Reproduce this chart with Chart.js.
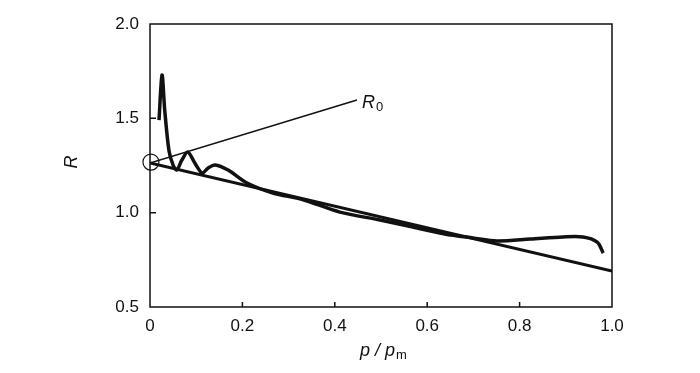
<!DOCTYPE html>
<html>
<head>
<meta charset="utf-8">
<script src="https://cdn.jsdelivr.net/npm/chart.js@4.4.1/dist/chart.umd.min.js"></script>
<style>
  html,body{margin:0;padding:0;background:#fff;}
  #wrap{width:700px;height:373px;position:relative;}
</style>
</head>
<body>
<div id="wrap"><canvas id="ch"></canvas></div>
<script>
const curveP = [0.0195,0.026,0.032,0.041,0.050,0.058,0.069,0.082,0.097,0.113,0.126,0.141,0.169,0.21,0.266,0.33,0.411,0.498,0.569,0.638,0.699,0.751,0.823,0.894,0.937,0.968,0.981];
const curveR = [1.49,1.73,1.54,1.33,1.252,1.226,1.279,1.321,1.263,1.21,1.237,1.253,1.226,1.157,1.104,1.07,1.003,0.961,0.924,0.887,0.866,0.85,0.86,0.871,0.871,0.844,0.786];
// linear fit
const fitP = [0, 1.0];
const fitR = [1.263, 0.69];
// R0 pointer
const ptrP = [0, 0.448];
const ptrR = [1.263, 1.597];
const r0 = {p:0.002, R:1.268};
const xTicks = [0,0.2,0.4,0.6,0.8,1.0];
const yTicks = [0.5,1.0,1.5,2.0];

const FONT = "'Liberation Sans', Arial, sans-serif";
const ink = '#111';
const xy = (ps, rs) => ps.map((p,i)=>({x:p,y:rs[i]}));

const frame = {
  id:'frame',
  afterDraw(chart){
    const {ctx, chartArea:a, scales:{x,y}} = chart;
    ctx.save();
    ctx.strokeStyle = ink; ctx.lineWidth = 1.5;
    ctx.strokeRect(a.left, a.top, a.right-a.left, a.bottom-a.top);
    // inward ticks
    ctx.beginPath();
    xTicks.slice(1,-1).forEach(v=>{ const px=x.getPixelForValue(v); ctx.moveTo(px,a.bottom); ctx.lineTo(px,a.bottom-5); });
    yTicks.slice(1,-1).forEach(v=>{ const py=y.getPixelForValue(v); ctx.moveTo(a.left,py); ctx.lineTo(a.left+6,py); });
    ctx.stroke();
    ctx.fillStyle = ink; ctx.textBaseline='alphabetic';
    // R0 label
    const lx = x.getPixelForValue(ptrP[1]) + 5, ly = y.getPixelForValue(ptrR[1]) + 8;
    ctx.font = 'italic 18px '+FONT; ctx.textAlign='left';
    ctx.fillText('R', lx, ly);
    const rw = ctx.measureText('R').width;
    ctx.font = '13px '+FONT; ctx.fillText('0', lx+rw+1, ly+3);
    // x title
    const cx = (a.left+a.right)/2 + 2, by = 356;
    ctx.font = 'italic 18px '+FONT;
    const t1 = 'p / p';
    const w1 = ctx.measureText(t1).width;
    ctx.font = '13px '+FONT; const w2 = ctx.measureText('m').width;
    const sx = cx - (w1+w2)/2;
    ctx.font = 'italic 18px '+FONT; ctx.fillText(t1, sx, by);
    ctx.font = '13px '+FONT; ctx.fillText('m', sx+w1+1, by+3);
    // y title
    ctx.translate(72, 162); ctx.rotate(-Math.PI/2);
    ctx.font = 'italic 18px '+FONT; ctx.textAlign='center'; ctx.textBaseline='middle';
    ctx.fillText('R', 0, 0);
    ctx.restore();
  }
};

new Chart(document.getElementById('ch'), {
  type:'scatter',
  data:{datasets:[
    {data:xy(curveP,curveR), showLine:true, borderColor:ink, borderWidth:3.5, pointRadius:0, tension:0.3, borderJoinStyle:'round'},
    {data:xy(fitP,fitR), showLine:true, borderColor:ink, borderWidth:3, pointRadius:0},
    {data:xy(ptrP,ptrR), showLine:true, borderColor:ink, borderWidth:1.5, pointRadius:0},
    {data:[{x:r0.p,y:r0.R}], clip:false, pointRadius:8, pointStyle:'circle', pointBorderColor:ink, pointBackgroundColor:'rgba(0,0,0,0)', pointBorderWidth:1.2}
  ]},
  options:{
    responsive:true, maintainAspectRatio:false, animation:false,
    layout:{padding:{top:24,right:88,left:0,bottom:0}},
    plugins:{legend:{display:false}, tooltip:{enabled:false}},
    scales:{
      x:{type:'linear', min:0, max:1.0, grid:{display:false}, border:{display:false},
        afterBuildTicks:s=>{ s.ticks = xTicks.map(v=>({value:v})); },
        afterFit:s=>{ s.height = 66; },
        ticks:{color:ink, padding:1, maxRotation:0, font:{family:FONT,size:17}, callback:v=> v===0?'0':v.toFixed(1)}},
      y:{type:'linear', min:0.5, max:2.0, grid:{display:false}, border:{display:false},
        afterBuildTicks:s=>{ s.ticks = yTicks.map(v=>({value:v})); },
        afterFit:s=>{ s.width = 150; },
        ticks:{color:ink, padding:3, font:{family:FONT,size:17}, callback:v=>v.toFixed(1)}}
    }
  },
  plugins:[frame]
});
</script>
</body>
</html>
